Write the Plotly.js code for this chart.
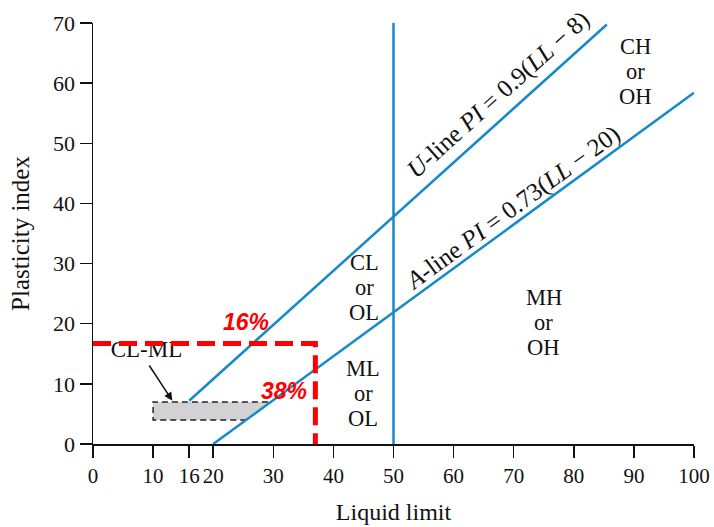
<!DOCTYPE html>
<html><head><meta charset="utf-8">
<script src="https://cdn.plot.ly/plotly-3.0.1.min.js"></script>
<style>html,body{margin:0;padding:0;background:#fff}#chart{width:714px;height:527px}</style>
</head><body><div id="chart"></div>
<script>
// ---- data ----
const xTickVals = [0, 10, 16, 20, 30, 40, 50, 60, 70, 80, 90, 100];
const xTickText = ['0', '10', '16', '20', '30', '40', '50', '60', '70', '80', '90', '100'];
const yTickVals = [0, 10, 20, 30, 40, 50, 60, 70];

const uLineLL = [16, 85.5];
const uLinePI = [7.2, 69.75];
const aLineLL = [20, 100];
const aLinePI = [0, 58.4];
const vLineLL = [50, 50];
const vLinePI = [0, 70];
const redLL = [0, 37, 37];
const redPI = [16.7, 16.7, 0];
const clmlFillLL = [10, 25.5, 29.6, 10, 10];
const clmlFillPI = [4, 4, 7, 7, 4];
const clmlDashLL = [25.5, 10, 10, 29.2];
const clmlDashPI = [4, 4, 7, 7];
const clmlTextLL = [8.9];
const clmlTextPI = [15.4];
const clmlArrowHead = [13.2, 7.2];
const clmlArrowTail = [9.2, 13.3];

const regionLabels = [
  {lines: ['CH', 'or', 'OH'], LL: 90.3, PI: 61.9},
  {lines: ['CL', 'or', 'OL'], LL: 45.1, PI: 26.1},
  {lines: ['ML', 'or', 'OL'], LL: 45.0, PI: 8.4},
  {lines: ['MH', 'or', 'OH'], LL: 75.0, PI: 20.2}
];
const lineLabels = [
  {text: '<i>U</i>-line <i>PI</i> = 0.9(<i>LL</i> \u2212 8)', LL: 67.4, PI: 58.0, angle: -42},
  {text: '<i>A</i>-line <i>PI</i> = 0.73(<i>LL</i> \u2212 20)', LL: 69.8, PI: 39.2, angle: -36.2}
];
const redLabels = [
  {text: '16%', LL: 25.5, PI: 20.3},
  {text: '38%', LL: 31.8, PI: 8.8}
];

// ---- style ----
const SERIF = '"Liberation Serif", "Times New Roman", Times, serif';
const SANS = '"Liberation Sans", Arial, sans-serif';
const BLUE = '#1689c9';
const RED = '#ff0000';

const traces = [
  {x: clmlFillLL, y: clmlFillPI, mode: 'lines', fill: 'toself', fillcolor: '#d2d2d4',
   line: {width: 0, color: 'rgba(0,0,0,0)'}, hoverinfo: 'skip'},
  {x: clmlDashLL, y: clmlDashPI, mode: 'lines', line: {color: '#222', width: 1.5, dash: '6px,4px'}},
  {x: uLineLL, y: uLinePI, mode: 'lines', line: {color: BLUE, width: 2.5}},
  {x: aLineLL, y: aLinePI, mode: 'lines', line: {color: BLUE, width: 2.5}},
  {x: vLineLL, y: vLinePI, mode: 'lines', line: {color: BLUE, width: 2.5}},
  {x: clmlTextLL, y: clmlTextPI, mode: 'text', text: ['CL-ML'],
   textfont: {family: SERIF, size: 23, color: '#111'}, textposition: 'middle center'},
  {x: redLL, y: redPI, mode: 'lines', line: {color: RED, width: 5, dash: '18px,8px'}}
];

const annotations = [];
const pitch = 25;
regionLabels.forEach(r => {
  r.lines.forEach((t, i) => {
    annotations.push({x: r.LL, y: r.PI, xref: 'x', yref: 'y', text: t, showarrow: false,
      yshift: (1 - i) * pitch, font: {family: SERIF, size: 22.5, color: '#111'}});
  });
});
lineLabels.forEach(l => {
  annotations.push({x: l.LL, y: l.PI, xref: 'x', yref: 'y', text: l.text, showarrow: false,
    textangle: l.angle, font: {family: SERIF, size: 25, color: '#111'}});
});
redLabels.forEach(l => {
  annotations.push({x: l.LL, y: l.PI, xref: 'x', yref: 'y', text: '<b><i>' + l.text + '</i></b>',
    showarrow: false, font: {family: SANS, size: 23, color: RED}});
});
annotations.push({x: clmlArrowHead[0], y: clmlArrowHead[1], ax: clmlArrowTail[0], ay: clmlArrowTail[1],
  xref: 'x', yref: 'y', axref: 'x', ayref: 'y', text: '', showarrow: true,
  arrowhead: 2, arrowsize: 1.1, arrowwidth: 1.5, arrowcolor: '#111'});

const layout = {
  width: 714, height: 527,
  margin: {l: 93, r: 20, t: 23, b: 83},
  paper_bgcolor: '#fff', plot_bgcolor: '#fff',
  showlegend: false, hovermode: false,
  font: {family: SERIF, color: '#111'},
  xaxis: {
    range: [0, 100], tickmode: 'array', tickvals: xTickVals, ticktext: xTickText,
    showgrid: false, zeroline: false, showline: true, linecolor: '#111', linewidth: 1.5,
    ticks: 'outside', ticklen: 12, tickwidth: 1.5, tickcolor: '#111',
    tickfont: {family: SERIF, size: 21, color: '#111'},
    title: {text: 'Liquid limit', font: {family: SERIF, size: 24, color: '#111'}, standoff: 16},
    automargin: false
  },
  yaxis: {
    range: [0, 70], tickmode: 'array', tickvals: yTickVals,
    showgrid: false, zeroline: false, showline: true, linecolor: '#111', linewidth: 1.5,
    ticks: 'outside', ticklen: 12, tickwidth: 1.5, tickcolor: '#111',
    tickfont: {family: SERIF, size: 22, color: '#111'},
    title: {text: 'Plasticity index', font: {family: SERIF, size: 25, color: '#111'}, standoff: 16},
    automargin: false
  },
  annotations: annotations
};

Plotly.newPlot('chart', traces, layout, {displayModeBar: false, staticPlot: true});
</script>
</body></html>
